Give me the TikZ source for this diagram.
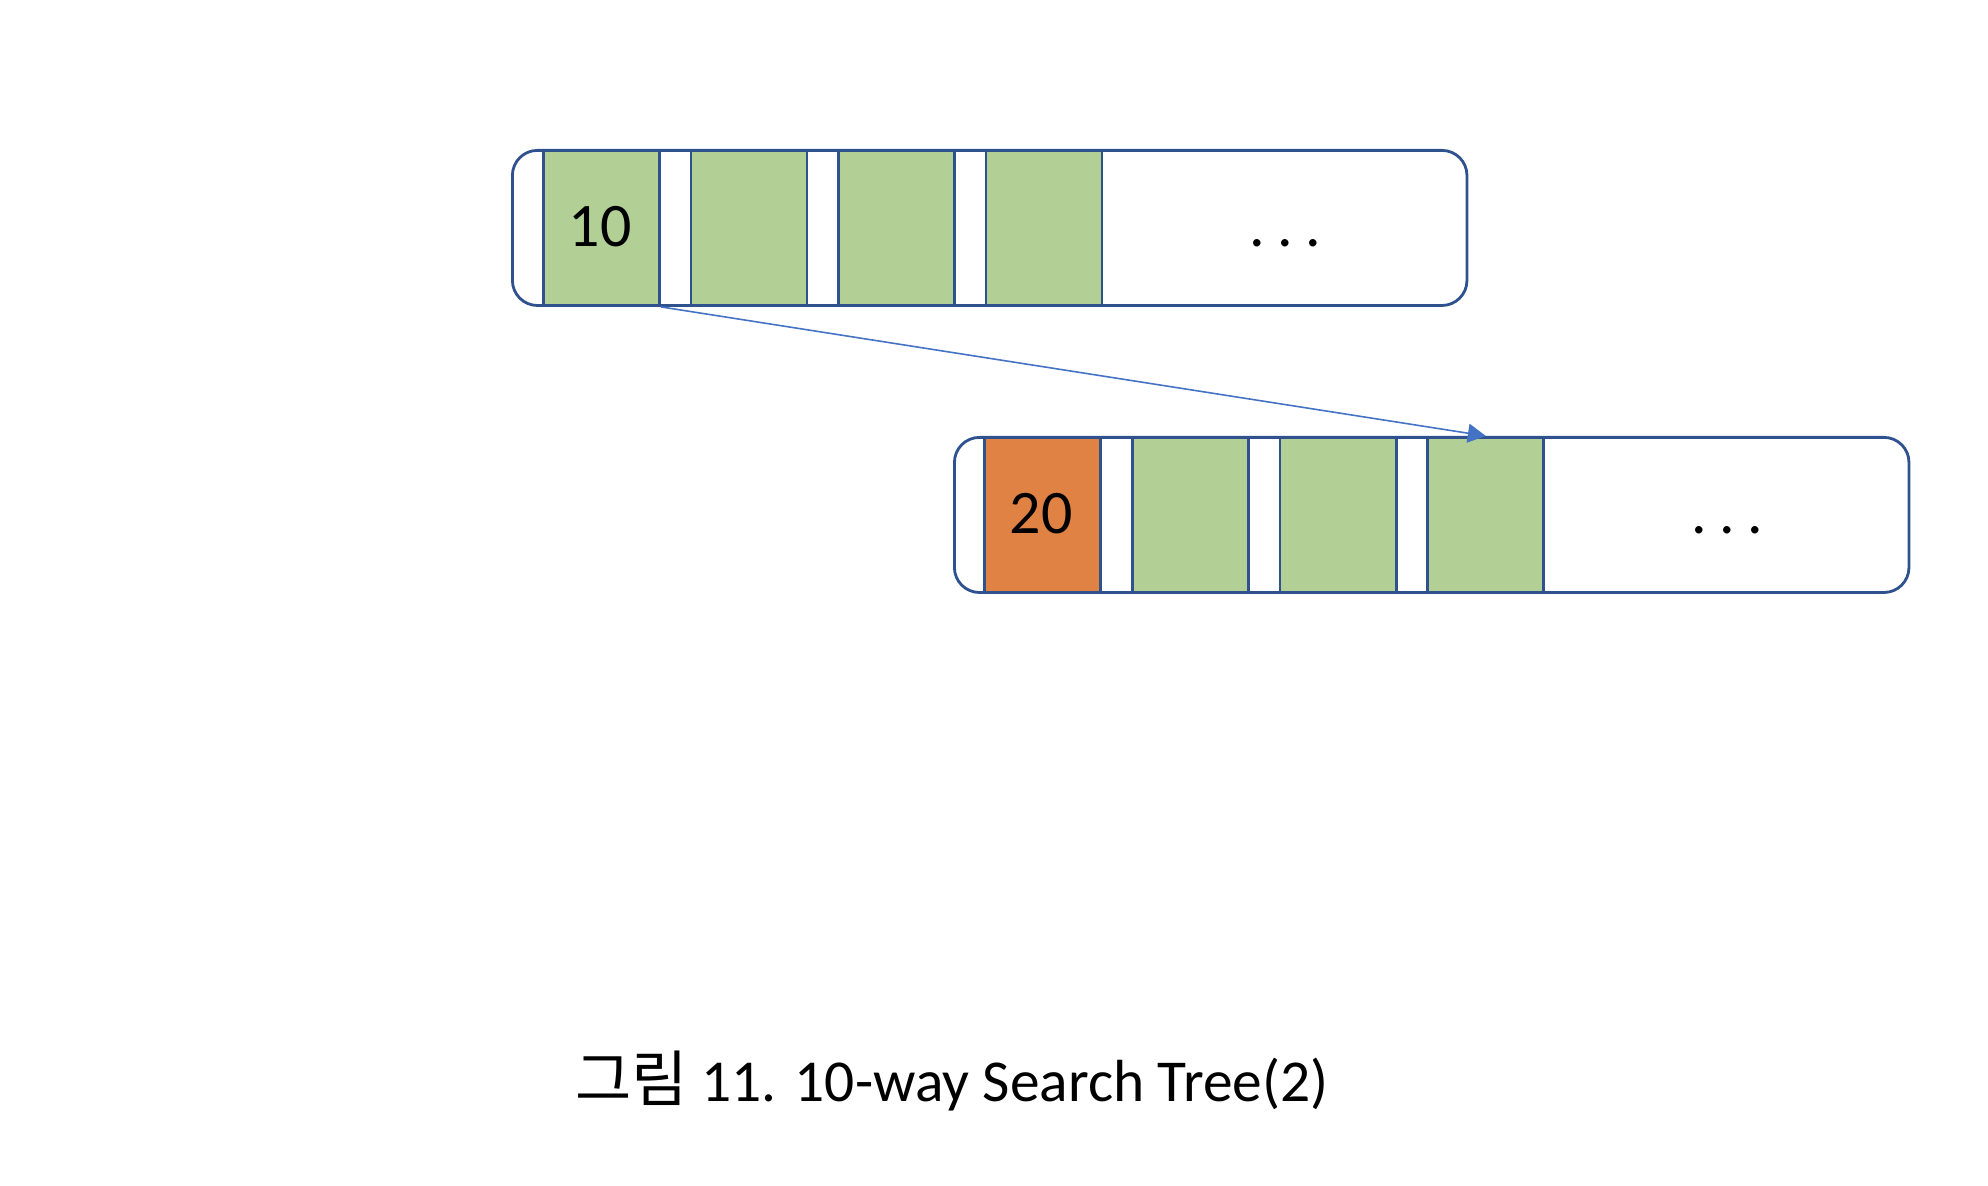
\documentclass[tikz,border=0pt]{standalone}
\usepackage{fontspec}
\setmainfont{Carlito}
\newfontfamily\krfont{Noto Sans CJK KR}
\usetikzlibrary{positioning,arrows.meta}
\definecolor{boxblue}{HTML}{2F528F}
\definecolor{arrowblue}{HTML}{4472C4}
\definecolor{keygreen}{HTML}{B2CF96}
\definecolor{keyorange}{HTML}{E08244}

\begin{document}
\begin{tikzpicture}[x=0.01cm, y=-0.01cm, line width=0.8pt,
    nodebox/.style={draw=boxblue, rounded corners=0.25cm, minimum width=9.54cm, minimum height=1.55cm, inner sep=0pt, anchor=north west},
    keycell/.style={draw=boxblue, fill=keygreen, minimum width=1.16cm, minimum height=1.55cm, inner sep=0pt, anchor=north west},
    keytext/.style={font=\fontsize{17.6pt}{21pt}\selectfont, inner sep=0pt, anchor=base}]
    \useasboundingbox (0,0) rectangle (1988,1186);
    % upper node
    \node[nodebox] (up) at (511,149) {};
    \foreach \i in {1,...,4}
        \node[keycell] (u\i) at ({542+(\i-1)*147.5},149) {};
    \node[keytext] (k10) at (600,246.5) {10};
    \node[keytext] (udots) at (1285,246.5) {.\hspace{0.2em}.\hspace{0.2em}.};
    % lower node
    \node[nodebox] (low) at (953,436) {};
    \foreach \i/\c in {1/keyorange,2/keygreen,3/keygreen,4/keygreen}
        \node[keycell, fill=\c] (l\i) at ({983+(\i-1)*147.8},436) {};
    \node[keytext] (k20) at (1041,533.5) {20};
    \node[keytext] (ldots) at (1727,533.5) {.\hspace{0.2em}.\hspace{0.2em}.};
    % pointer
    \draw[arrowblue, line width=0.45pt, -{Triangle[length=0.18cm, width=0.19cm]}] (u1.south east) -- (l4.north);
    % caption
    \node[keytext, font=\fontsize{16.9pt}{21pt}\selectfont] (caption) at (952,1101.7) {{\krfont\fontsize{17.4pt}{21pt}\selectfont 그림} 11. 10-way Search Tree(2)};
\end{tikzpicture}
\end{document}
